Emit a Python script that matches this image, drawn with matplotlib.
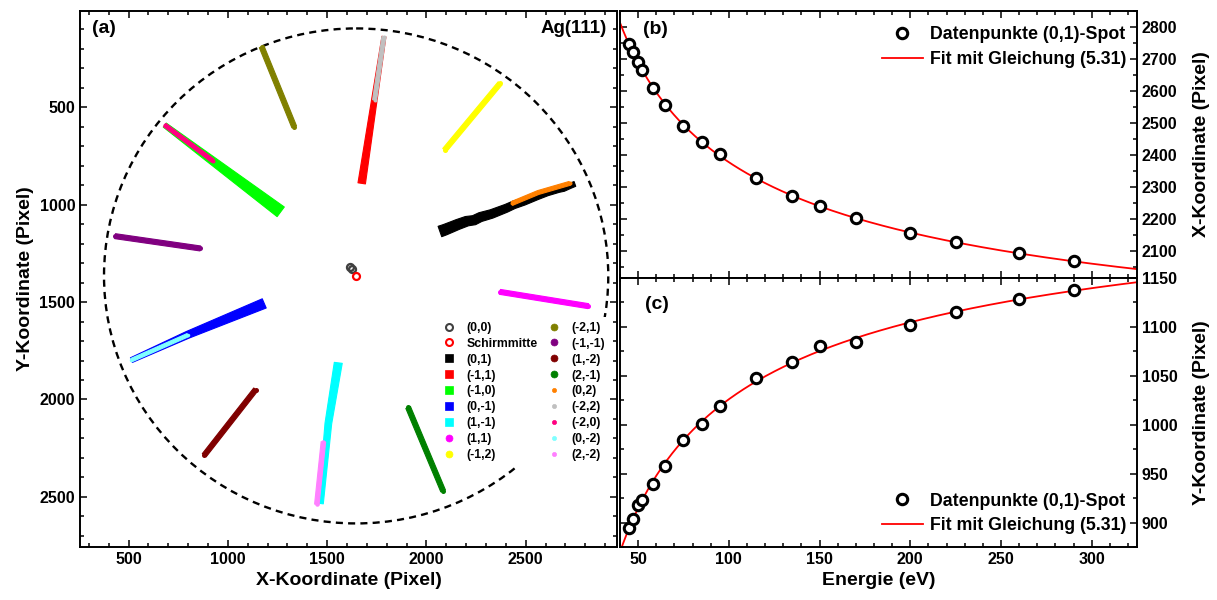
import numpy as np
import matplotlib
matplotlib.use("Agg")
import matplotlib.pyplot as plt
from matplotlib.patches import Polygon, Circle
from matplotlib.lines import Line2D
from matplotlib.ticker import MultipleLocator

plt.rcParams['font.family'] = ['Liberation Sans', 'DejaVu Sans']
plt.rcParams['font.weight'] = 'bold'
plt.rcParams['axes.labelweight'] = 'bold'

# (0,1)-Spot: Energie, X- und Y-Koordinate
energie = [45, 47, 50, 52, 58, 65, 75, 85, 95, 115, 135, 150, 170, 200, 225, 260, 290]
x_01 = [2748, 2723, 2691, 2665, 2608, 2557, 2492, 2441, 2402, 2328, 2272, 2240, 2204, 2158, 2127, 2093, 2068]
y_01 = [894, 904, 918, 923, 939, 958, 984, 1001, 1019, 1048, 1064, 1080, 1085, 1102, 1115, 1129, 1138]

# weitere Spots (Anfang -> Ende der Spur)
x_m11 = [1786, 1674];        y_m11 = [138, 891]        # (-1,1)
x_m22 = [1786, 1739];        y_m22 = [138, 463]        # (-2,2)
x_m10 = [682, 1266];         y_m10 = [592, 1037]       # (-1,0)
x_m20 = [682, 924];          y_m20 = [592, 775]        # (-2,0)
x_0m1 = [514, 798, 1183];    y_0m1 = [1798, 1668, 1507]  # (0,-1)
x_0m2 = [514, 798];          y_0m2 = [1798, 1670]      # (0,-2)
x_1m1 = [1556, 1506, 1468];  y_1m1 = [1812, 2123, 2534]  # (1,-1)
x_2m2 = [1481, 1448];        y_2m2 = [2218, 2538]      # (2,-2)
x_11 = [2371, 2815];         y_11 = [1448, 1521]       # (1,1)
x_m12 = [2371, 2092];        y_m12 = [378, 720]        # (-1,2)
x_m21 = [1170, 1334];        y_m21 = [190, 601]        # (-2,1)
x_m1m1 = [432, 861];         y_m1m1 = [1162, 1225]     # (-1,-1)
x_1m2 = [1140, 881];         y_1m2 = [1949, 2286]      # (1,-2)
x_2m1 = [1908, 2084];        y_2m1 = [2041, 2469]      # (2,-1)
x_02 = [2431, 2563, 2722];   y_02 = [994, 938, 891]    # (0,2)

x_00 = [1615, 1624];         y_00 = [1318, 1330]       # (0,0)
x_mitte = [1646];            y_mitte = [1366]          # Schirmmitte
r_schirm = 1270


def spur(ax, xs, ys, w0, w1, farbe, z, rund=True):
    # Spur als Band mit linear veraenderlicher Breite (Pixel)
    d = ax.transData.transform(np.column_stack([xs, ys]))
    seg = np.diff(d, axis=0)
    L = np.hypot(seg[:, 0], seg[:, 1])
    t = np.concatenate([[0], np.cumsum(L)]) / L.sum()
    w = w0 + (w1 - w0) * t
    r = d[-1] - d[0]
    r = r / np.hypot(*r)
    nrm = np.array([-r[1], r[0]])
    links = d + nrm * w[:, None] / 2
    rechts = d - nrm * w[:, None] / 2
    poly = np.vstack([links, rechts[::-1]])
    ax.add_patch(Polygon(ax.transData.inverted().transform(poly), closed=True,
                         facecolor=farbe, edgecolor=farbe, lw=0.8, joinstyle='round', zorder=z))
    if rund:
        # runde Enden wie die Kreissymbole
        for i, wi in ((0, w0), (-1, w1)):
            ax.plot(xs[i], ys[i], 'o', ms=wi * 0.72, color=farbe, mew=0, zorder=z)


def ticks_style(ax):
    ax.tick_params(which='both', direction='in', top=True, right=True, labelsize=11.5, width=1.1)
    ax.tick_params(which='major', length=5)
    ax.tick_params(which='minor', length=3)
    for s in ax.spines.values():
        s.set_linewidth(1.4)


W, H = 1217, 600
fig = plt.figure(figsize=(W / 100, H / 100), dpi=100)
ax_a = fig.add_axes([80 / W, 1 - 547 / H, 537 / W, 536.3 / H])
ax_b = fig.add_axes([620 / W, 1 - 278 / H, 517 / W, 267.3 / H])
ax_c = fig.add_axes([620 / W, 1 - 547 / H, 517 / W, 269 / H])

# (a) Spot-Spuren auf dem Schirm
ax_a.set_xlim(255, 2960)
ax_a.set_ylim(2757, 5)
ax_a.xaxis.set_major_locator(MultipleLocator(500))
ax_a.xaxis.set_minor_locator(MultipleLocator(100))
ax_a.yaxis.set_major_locator(MultipleLocator(500))
ax_a.yaxis.set_minor_locator(MultipleLocator(100))
ticks_style(ax_a)

ax_a.add_patch(Circle((x_mitte[0], y_mitte[0]), r_schirm, fill=False, color='black',
                      lw=1.7, linestyle=(0, (3, 2.2)), zorder=1))

spur(ax_a, x_01, y_01, 5, 11, 'black', 3, rund=False)
spur(ax_a, x_m11, y_m11, 4, 7.5, 'red', 3, rund=False)
spur(ax_a, x_m10, y_m10, 5, 12, '#00ff00', 3, rund=False)
spur(ax_a, x_0m1, y_0m1, 5, 10, 'blue', 3, rund=False)
spur(ax_a, x_1m1, y_1m1, 8, 5, 'cyan', 3, rund=False)
spur(ax_a, x_11, y_11, 5, 5, 'magenta', 3)
spur(ax_a, x_m12, y_m12, 5, 5, 'yellow', 3)
spur(ax_a, x_m21, y_m21, 5, 5, '#808000', 3)
spur(ax_a, x_m1m1, y_m1m1, 5, 5, '#800080', 3)
spur(ax_a, x_1m2, y_1m2, 5, 5, '#800000', 3)
spur(ax_a, x_2m1, y_2m1, 5, 5, '#008000', 3)
spur(ax_a, x_02, y_02, 4, 4, '#ff8000', 4)
spur(ax_a, x_m22, y_m22, 4, 4, '#c0c0c0', 4)
spur(ax_a, x_m20, y_m20, 4, 4, '#ff0080', 4)
spur(ax_a, x_0m2, y_0m2, 3.5, 3.5, '#80ffff', 4)
spur(ax_a, x_2m2, y_2m2, 4.5, 4.5, '#ff80ff', 4)

ax_a.plot(x_00, y_00, 'o', ms=5, mfc='none', mec='#404040', mew=1.7, zorder=5)
ax_a.plot(x_mitte, y_mitte, 'o', ms=5, mfc='none', mec='red', mew=1.6, zorder=5)

ax_a.set_xlabel('X-Koordinate (Pixel)', fontsize=14)
ax_a.set_ylabel('Y-Koordinate (Pixel)', fontsize=14)
ax_a.text(0.022, 0.966, '(a)', transform=ax_a.transAxes, fontsize=14, va='center', ha='left')
ax_a.text(0.981, 0.966, 'Ag(111)', transform=ax_a.transAxes, fontsize=13.5, va='center', ha='right')

def hnd(m, c, ms, hohl=False):
    return Line2D([], [], ls='none', marker=m, ms=ms, color=c,
                  mfc='none' if hohl else c, mew=1.5 if hohl else 0.5)

handles = [hnd('o', '#404040', 5, True), hnd('o', 'red', 5, True),
           hnd('s', 'black', 6), hnd('s', 'red', 6), hnd('s', '#00ff00', 6),
           hnd('s', 'blue', 6), hnd('s', 'cyan', 6), hnd('o', 'magenta', 5), hnd('o', 'yellow', 5),
           hnd('o', '#808000', 5), hnd('o', '#800080', 5), hnd('o', '#800000', 5),
           hnd('o', '#008000', 5), hnd('o', '#ff8000', 3), hnd('o', '#c0c0c0', 3),
           hnd('o', '#ff0080', 3), hnd('o', '#80ffff', 3), hnd('o', '#ff80ff', 3)]
labels = ['(0,0)', 'Schirmmitte', '(0,1)', '(-1,1)', '(-1,0)', '(0,-1)', '(1,-1)', '(1,1)', '(-1,2)',
          '(-2,1)', '(-1,-1)', '(1,-2)', '(2,-1)', '(0,2)', '(-2,2)', '(-2,0)', '(0,-2)', '(2,-2)']
leg = ax_a.legend(handles, labels, ncol=2, loc='center', bbox_to_anchor=(524 / W, 1 - 391.5 / H),
                  bbox_transform=fig.transFigure, fontsize=8.8, frameon=True, edgecolor='none',
                  facecolor='white', framealpha=1, handlelength=1.0, handletextpad=0.95,
                  columnspacing=0.8, labelspacing=0.32, borderpad=0.4)
leg.set_zorder(6)

# (b), (c) Koordinaten des (0,1)-Spots gegen Energie mit Fit
e_fit = np.linspace(38, 325, 300)
ex = np.array(energie, dtype=float)
px = np.polyfit(1 / np.sqrt(ex), x_01, 1)
py = np.polyfit(1 / np.sqrt(ex), y_01, 1)

for ax, werte, p, lim, major, minor, ort, anker, lab in [
        (ax_b, x_01, px, (2016, 2851), 100, 50, 'upper right', (0.993, 0.968), 'X-Koordinate (Pixel)'),
        (ax_c, y_01, py, (875, 1150), 50, 25, 'lower right', (0.993, 0.022), 'Y-Koordinate (Pixel)')]:
    ax.plot(energie, werte, 'o', ms=7.5, mfc='white', mec='black', mew=2.2, zorder=3,
            label='Datenpunkte (0,1)-Spot')
    ax.plot(e_fit, np.polyval(p, 1 / np.sqrt(e_fit)), color='red', lw=1.3, zorder=2,
            label='Fit mit Gleichung (5.31)')
    ax.set_xlim(40, 325)
    ax.set_ylim(*lim)
    ax.xaxis.set_major_locator(MultipleLocator(50))
    ax.xaxis.set_minor_locator(MultipleLocator(10))
    ax.yaxis.set_major_locator(MultipleLocator(major))
    ax.yaxis.set_minor_locator(MultipleLocator(minor))
    ticks_style(ax)
    ax.tick_params(labelleft=False, labelright=True)
    ax.yaxis.set_label_position('right')
    ax.set_ylabel(lab, fontsize=14, labelpad=11)
    ax.legend(loc=ort, bbox_to_anchor=anker, frameon=False, fontsize=12.8, handlelength=2.3,
              handletextpad=0.4, labelspacing=0.42, borderaxespad=0.0)

ax_b.tick_params(labelbottom=False)
ax_c.set_xlabel('Energie (eV)', fontsize=14)
ax_b.text(0.045, 0.928, '(b)', transform=ax_b.transAxes, fontsize=14, va='center')
ax_c.text(0.048, 0.90, '(c)', transform=ax_c.transAxes, fontsize=14, va='center')

fig.savefig('out.png', dpi=100)
